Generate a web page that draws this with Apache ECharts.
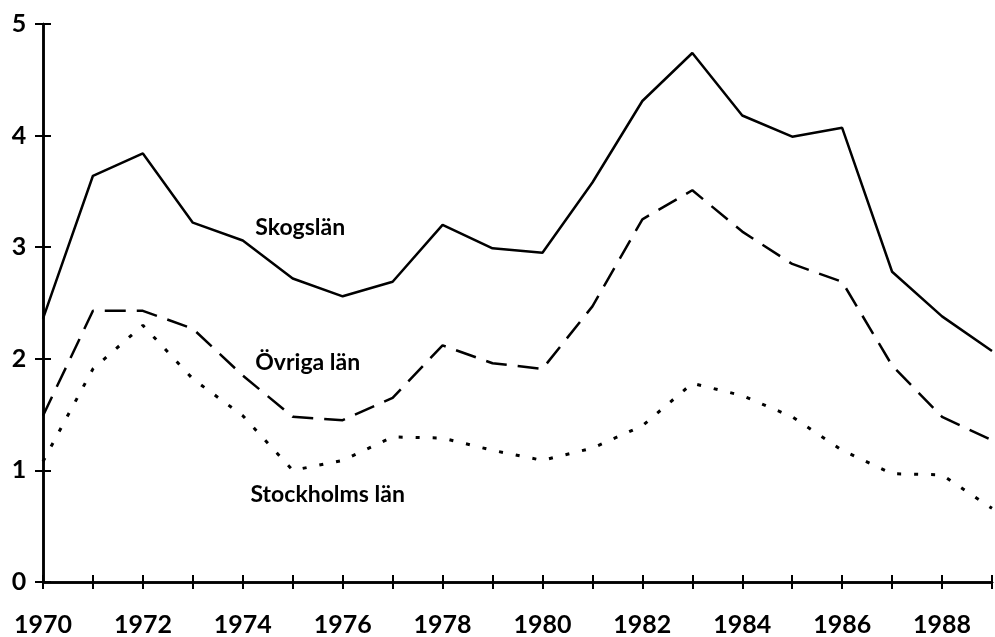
<!DOCTYPE html>
<html>
<head>
<meta charset="utf-8">
<script src="https://cdn.jsdelivr.net/npm/echarts@6/dist/echarts.min.js"></script>
<style>
  html, body { margin: 0; padding: 0; background: #fff; }
  #chart { width: 995px; height: 637px; }
</style>
</head>
<body>
<div id="chart"></div>
<script>
// år
const years = [1970, 1971, 1972, 1973, 1974, 1975, 1976, 1977, 1978, 1979,
               1980, 1981, 1982, 1983, 1984, 1985, 1986, 1987, 1988, 1989];

// värden
const skogslan = [2.36, 3.64, 3.84, 3.22, 3.06, 2.72, 2.56, 2.69, 3.20, 2.99,
                  2.95, 3.58, 4.31, 4.74, 4.18, 3.99, 4.07, 2.78, 2.38, 2.07];
const ovrigaLan = [1.49, 2.43, 2.43, 2.27, 1.85, 1.48, 1.45, 1.65, 2.12, 1.96,
                   1.91, 2.47, 3.25, 3.51, 3.14, 2.85, 2.69, 1.94, 1.48, 1.27];
const stockholmsLan = [1.08, 1.91, 2.30, 1.82, 1.49, 1.00, 1.09, 1.30, 1.29, 1.18,
                       1.09, 1.20, 1.40, 1.78, 1.67, 1.48, 1.18, 0.97, 0.96, 0.66];

// y-axelns skala
const yTicks = [0, 1, 2, 3, 4, 5];

// etiketter i diagrammet: namn + position (år, värde)
const seriesNames = ['Skogslän', 'Övriga län', 'Stockholms län'];
const labelAt = [[1975.15, 3.18], [1975.3, 1.97], [1975.7, 0.78]];

const font = 'Lato, "DejaVu Sans", sans-serif';

function pairs(vals) {
  return years.map((y, i) => [y, vals[i]]);
}

function nameLabel(i) {
  return {
    symbol: 'circle',
    symbolSize: 0,
    silent: true,
    label: {
      show: true,
      position: 'inside',
      color: '#000',
      fontFamily: font,
      fontSize: 23,
      fontWeight: 'bold',
      formatter: seriesNames[i]
    },
    data: [{ coord: labelAt[i] }]
  };
}

const chart = echarts.init(document.getElementById('chart'), null, { renderer: 'canvas' });

// x-axel: två lager för streck som går över axeln
const xBase = {
  type: 'value',
  min: years[0],
  max: years[years.length - 1],
  interval: 1,
  splitLine: { show: false },
  axisLine: { show: true, onZero: false, lineStyle: { color: '#000', width: 2.5 } }
};
const yBase = {
  type: 'value',
  min: yTicks[0],
  max: yTicks[yTicks.length - 1],
  interval: 1,
  splitLine: { show: false },
  axisLine: { show: true, onZero: false, lineStyle: { color: '#000', width: 2.5 } }
};

const option = {
  animation: false,
  backgroundColor: '#fff',
  grid: { left: 43, right: 1, top: 24, bottom: 53, containLabel: false },
  xAxis: [
    Object.assign({}, xBase, {
      axisTick: { show: true, length: 7, lineStyle: { color: '#000', width: 2 } },
      axisLabel: {
        show: true,
        margin: 30,
        color: '#000',
        fontFamily: font,
        fontSize: 25,
        fontWeight: 'bold',
        formatter: v => (v % 2 === 0 && v < 1989 ? String(v) : '')
      }
    }),
    Object.assign({}, xBase, {
      position: 'bottom',
      axisTick: { show: true, inside: true, length: 7, lineStyle: { color: '#000', width: 2 } },
      axisLabel: { show: false }
    })
  ],
  yAxis: [
    Object.assign({}, yBase, {
      axisTick: { show: true, length: 8, lineStyle: { color: '#000', width: 2 } },
      axisLabel: {
        show: true,
        margin: 24,
        align: 'center',
        color: '#000',
        fontFamily: font,
        fontSize: 25,
        fontWeight: 'bold'
      }
    }),
    Object.assign({}, yBase, {
      position: 'left',
      axisTick: { show: true, inside: true, length: 8, lineStyle: { color: '#000', width: 2 } },
      axisLabel: { show: false }
    })
  ],
  series: [
    {
      name: seriesNames[0],
      type: 'line',
      data: pairs(skogslan),
      showSymbol: false,
      lineStyle: { color: '#000', width: 2.5, type: 'solid' },
      markPoint: nameLabel(0)
    },
    {
      name: seriesNames[1],
      type: 'line',
      data: pairs(ovrigaLan),
      showSymbol: false,
      lineStyle: { color: '#000', width: 2.5, type: [21, 11] },
      markPoint: nameLabel(1)
    },
    {
      name: seriesNames[2],
      type: 'line',
      data: pairs(stockholmsLan),
      showSymbol: false,
      lineStyle: { color: '#000', width: 3, type: [4, 13] },
      markPoint: nameLabel(2)
    }
  ]
};

chart.setOption(option);
</script>
</body>
</html>
